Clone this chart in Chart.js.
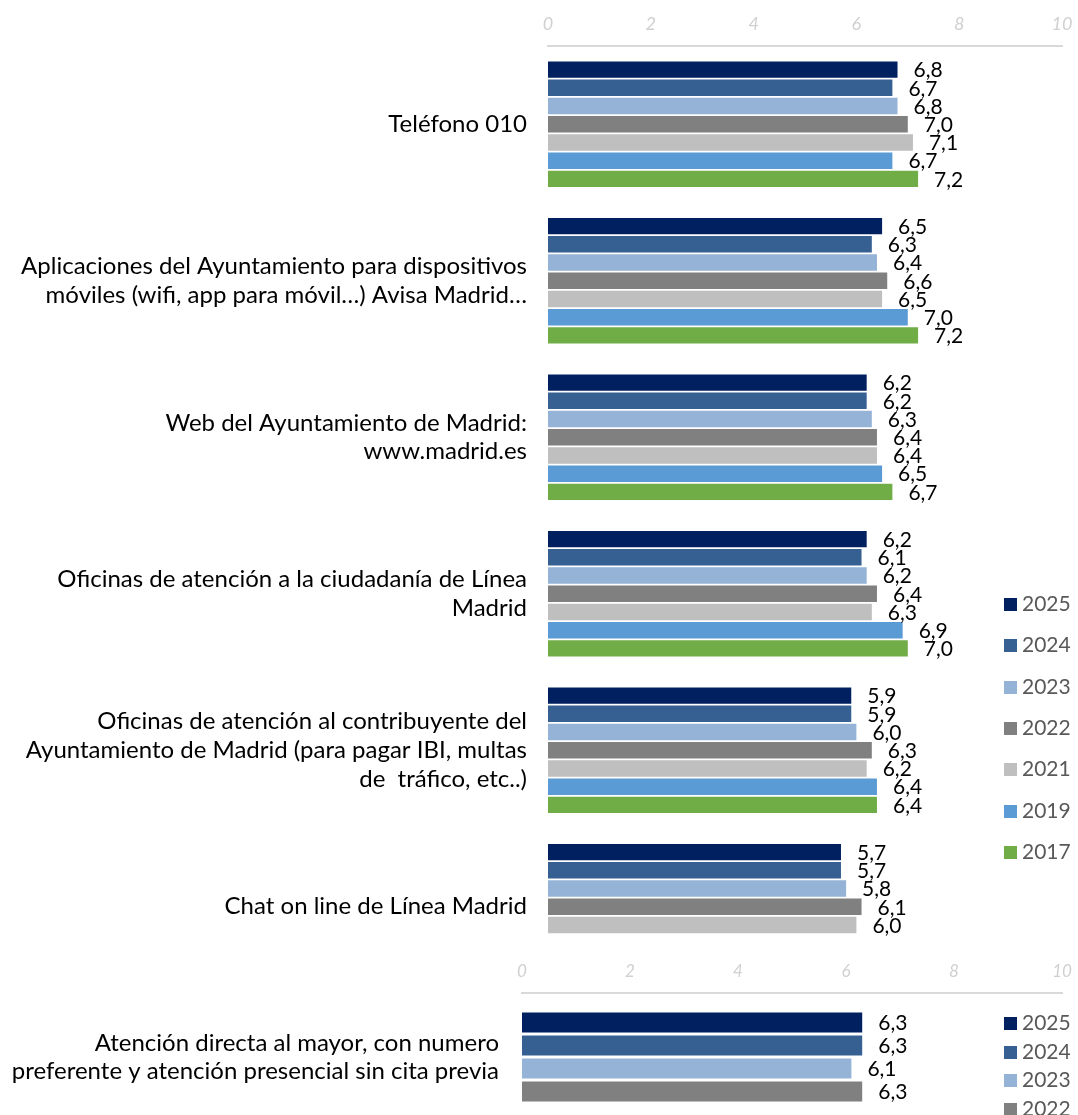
<!DOCTYPE html>
<html>
<head>
<meta charset="utf-8">
<script src="https://cdn.jsdelivr.net/npm/chart.js@4/dist/chart.umd.min.js"></script>
<style>
  html, body { margin:0; padding:0; background:#fff; overflow:hidden; width:1078px; height:1115px; }
  .wrap { position:absolute; left:0; width:1078px; }
  .legend { position:absolute; left:1004px; font-family:Lato, sans-serif; font-size:21px; color:#595959; }
  .legend div { position:absolute; left:0; white-space:nowrap; height:22px; line-height:22px; }
  .legend span { display:inline-block; width:13px; height:13px; margin-right:5px; vertical-align:0px; }
</style>
</head>
<body>
<div class="wrap" style="top:0;height:990px"><canvas id="mainChart"></canvas></div>
<div class="wrap" style="top:950px;height:175px"><canvas id="mayorChart"></canvas></div>
<div class="legend" id="legTop"></div>
<div class="legend" id="legBot"></div>
<script>
// ---- data ----
const years    = ['2025','2024','2023','2022','2021','2019','2017'];
const colors   = ['#002060','#376092','#95B3D7','#808080','#BFBFBF','#5B9BD5','#70AD47'];
const services = [
  'Teléfono 010',
  ['Aplicaciones del Ayuntamiento para dispositivos','móviles (wifi, app para móvil…) Avisa Madrid…'],
  ['Web del Ayuntamiento de Madrid:','www.madrid.es'],
  ['Oficinas de atención a la ciudadanía de Línea','Madrid'],
  ['Oficinas de atención al contribuyente del','Ayuntamiento de Madrid (para pagar IBI, multas','de  tráfico, etc..)'],
  'Chat on line de Línea Madrid',
];
const v2025 = [6.8, 6.5, 6.2, 6.2, 5.9, 5.7];
const v2024 = [6.7, 6.3, 6.2, 6.1, 5.9, 5.7];
const v2023 = [6.8, 6.4, 6.3, 6.2, 6.0, 5.8];
const v2022 = [7.0, 6.6, 6.4, 6.4, 6.3, 6.1];
const v2021 = [7.1, 6.5, 6.4, 6.3, 6.2, 6.0];
const v2019 = [6.7, 7.0, 6.5, 6.9, 6.4, null];
const v2017 = [7.2, 7.2, 6.7, 7.0, 6.4, null];

const mayorLabel  = [['Atención directa al mayor, con numero','preferente y atención presencial sin cita previa']];
const mayorYears  = ['2025','2024','2023','2022'];
const mayorValues = [6.3, 6.3, 6.1, 6.3];

const axisTicks = [0, 2, 4, 6, 8, 10];

// ---- helpers ----
const fmt = v => v.toFixed(1).replace('.', ',');

const valueLabels = {
  id:'valueLabels',
  afterDatasetsDraw(chart) {
    const ctx = chart.ctx;
    ctx.save();
    ctx.font = '21px Lato, sans-serif';
    ctx.fillStyle = '#000';
    ctx.textAlign = 'left';
    ctx.textBaseline = 'middle';
    chart.data.datasets.forEach((ds, di) => {
      chart.getDatasetMeta(di).data.forEach((bar, i) => {
        const v = ds.data[i];
        if (v == null) return;
        ctx.fillText(fmt(v), bar.x + 16, bar.y + 1);
      });
    });
    ctx.restore();
  }
};

// scales would otherwise push the chart area in by half a label
function noPad(s) { s.paddingTop = 0; s.paddingBottom = 0; s.paddingLeft = 0; s.paddingRight = 0; }

function xAxis(labelPad, height, size) {
  return {
    position:'top', min:0, max:10, afterBuildTicks: s => { s.ticks = axisTicks.map(v => ({ value:v })); },
    afterFit: s => { s.height = height; noPad(s); },
    ticks:{ color:'#d0d0d0', font:{ family:'Lato, sans-serif', size:size, style:'italic' }, padding:labelPad, maxRotation:0 },
    grid:{ display:false, drawTicks:false },
    border:{ display:true, color:'#d9d9d9', width:2 },
  };
}

function yAxis(width, pad, lh) {
  return {
    afterFit: s => { s.width = width; noPad(s); },
    ticks:{ color:'#000', font:{ family:'Lato, sans-serif', size:24, lineHeight:lh }, padding:pad, autoSkip:false },
    grid:{ display:false, drawTicks:false },
    border:{ display:false },
  };
}

function buildLegend(id, top, gap, labels) {
  const el = document.getElementById(id);
  el.style.top = top + 'px';
  labels.forEach((y, i) => {
    const d = document.createElement('div');
    d.style.top = (i * gap) + 'px';
    d.innerHTML = `<span style="background:${colors[i]}"></span>${y}`;
    el.appendChild(d);
  });
}

// ---- main chart ----
const series = [v2025, v2024, v2023, v2022, v2021, v2019, v2017];
new Chart(document.getElementById('mainChart'), {
  type:'bar',
  data:{ labels:services, datasets: series.map((d, i) => ({
    label:years[i], data:d, backgroundColor:colors[i],
    categoryPercentage:0.815, barPercentage:0.9,
  })) },
  options:{
    indexAxis:'y', responsive:true, maintainAspectRatio:false, animation:false,
    layout:{ autoPadding:false, padding:{ left:0, right:16, top:0, bottom:5 } },
    plugins:{ legend:{ display:false }, tooltip:{ enabled:false } },
    scales:{ x:xAxis(11, 46, 18), y:yAxis(548, 21, 1.2) },
  },
  plugins:[valueLabels],
});

// ---- "mayor" chart ----
new Chart(document.getElementById('mayorChart'), {
  type:'bar',
  data:{ labels:mayorLabel, datasets: mayorValues.map((v, i) => ({
    label:mayorYears[i], data:[v], backgroundColor:colors[i],
    categoryPercentage:0.72, barPercentage:0.87,
  })) },
  options:{
    indexAxis:'y', responsive:true, maintainAspectRatio:false, animation:false,
    layout:{ autoPadding:false, padding:{ left:0, right:16, top:0, bottom:4 } },
    plugins:{ legend:{ display:false }, tooltip:{ enabled:false } },
    scales:{ x:xAxis(11, 43, 17), y:yAxis(522, 23, 1.17) },
  },
  plugins:[valueLabels],
});

buildLegend('legTop', 592, 41.3, years);
buildLegend('legBot', 1011, 28.5, mayorYears);
</script>
</body>
</html>
